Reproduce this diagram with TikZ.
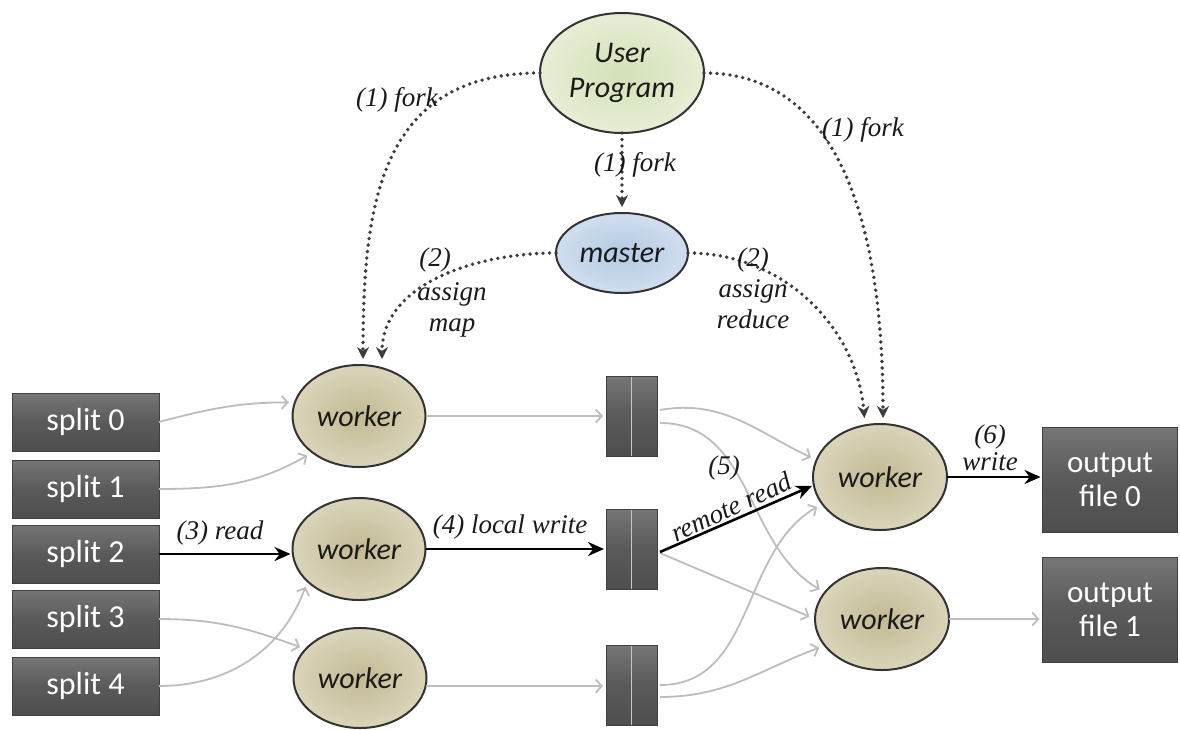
\documentclass[tikz,border=0pt]{standalone}
\usepackage{fontspec}
\setmainfont{Carlito}
\newfontfamily\labelserif{Liberation Serif}
\usetikzlibrary{arrows.meta,shapes.geometric}
\definecolor{upfill}{HTML}{D3E1B6}
\definecolor{upedge}{HTML}{E6EED5}
\definecolor{masterfill}{HTML}{B3C9E3}
\definecolor{masteredge}{HTML}{D0DEEF}
\definecolor{workerfill}{HTML}{C2BA92}
\definecolor{workeredge}{HTML}{DAD4BA}
\definecolor{boxtop}{HTML}{767676}
\definecolor{boxmid}{HTML}{5A5A5A}
\definecolor{boxbot}{HTML}{4E4E4E}
\definecolor{flowgray}{HTML}{BDBDBD}
\definecolor{dotgray}{HTML}{3C3C3C}
\definecolor{inktext}{HTML}{1A1A1A}

\begin{document}
\begin{tikzpicture}[x=1pt,y=1pt,
  every node/.style={inner sep=0pt,outer sep=0pt},
  proc/.style={ellipse,draw=black!80,line width=2pt,text=inktext,
    font=\fontsize{30}{35}\selectfont\itshape,align=center},
  upball/.style={proc,inner color=upfill,outer color=upedge,
    minimum width=164pt,minimum height=120pt},
  masterball/.style={proc,inner color=masterfill,outer color=masteredge,
    minimum width=132pt,minimum height=80pt},
  workerball/.style={proc,inner color=workerfill,outer color=workeredge,
    minimum width=133pt,minimum height=102pt},
  filebox/.style={rectangle,draw=black!75,line width=0.8pt,
    top color=boxtop,bottom color=boxbot,middle color=boxmid,
    text=white,align=center},
  splitbox/.style={filebox,minimum width=147pt,minimum height=58pt,
    font=\fontsize{32}{36}\selectfont},
  outbox/.style={filebox,minimum width=135pt,minimum height=105pt,
    font=\fontsize{31}{34}\selectfont},
  stackbox/.style={filebox,minimum width=51pt,minimum height=80pt,
    path picture={\draw[line width=1.8pt,draw=black!22]
      (path picture bounding box.north) -- (path picture bounding box.south);}},
  flow/.style={draw=flowgray,line width=1.8pt,shorten >=6pt,
    -{Straight Barb[length=6pt,width=13pt]}},
  mainflow/.style={draw=black,line width=2.6pt,shorten >=2pt,
    -{Stealth[length=16pt,width=14pt]}},
  forkflow/.style={draw=dotgray,line width=3.8pt,line cap=round,
    dash pattern=on 0pt off 6.5pt,shorten >=6pt,
    -{Stealth[length=12pt,width=12pt]}},
  note/.style={font=\labelserif\fontsize{27}{31}\selectfont\itshape,
    text=inktext,align=center}
]
\useasboundingbox[fill=white] (0,0) rectangle (1180,-729);

% processes
\node[upball] (up) at (622,-73) {User\\Program};
\node[masterball] (master) at (622,-253) {master};
\node[workerball] (w1) at (359,-416) {worker};
\node[workerball] (w2) at (359,-549) {worker};
\node[workerball,minimum height=100pt] (w3) at (360,-678) {worker};
\node[workerball,minimum width=134pt,minimum height=106pt] (r1) at (880,-477) {worker};
\node[workerball,minimum width=134pt] (r2) at (882,-619) {worker};

% input splits
\node[splitbox] (s0) at (85.5,-422) {split 0};
\node[splitbox] (s1) at (85.5,-489) {split 1};
\node[splitbox] (s2) at (85.5,-554) {split 2};
\node[splitbox] (s3) at (85.5,-619) {split 3};
\node[splitbox] (s4) at (85.5,-686) {split 4};

% intermediate files
\node[stackbox] (stk1) at (631.5,-416) {};
\node[stackbox] (stk2) at (631.5,-549) {};
\node[stackbox] (stk3) at (631.5,-685) {};

% output files
\node[outbox] (o0) at (1110,-480) {output\\file 0};
\node[outbox] (o1) at (1110,-610) {output\\file 1};

% fork and assignment
\draw[forkflow] (up.west) to[out=180,in=90,looseness=1.2] ([xshift=4pt]w1.north);
\draw[forkflow] (up.south) -- (master.north);
\draw[forkflow] (up.east) to[out=0,in=90] ([xshift=3pt]r1.north);
\draw[forkflow] (master.west) to[out=180,in=90] ([xshift=23pt]w1.north);
\draw[forkflow] (master.east) to[out=0,in=95] ([xshift=-15pt]r1.north);

% map inputs
\draw[flow] (s0.east) to[out=15,in=180] (w1.168);
\draw[flow] (s1.east) to[out=0,in=210] (w1.218);
\draw[mainflow] (s2.east) -- (s2.east -| w2.west);
\draw[flow] (s3.east) to[out=0,in=160] (w3.152);
\draw[flow] (s4.east) to[out=0,in=250] (w2.212);

% local writes
\draw[flow,shorten >=3pt] (w1.east) -- (w1.east -| stk1.west);
\draw[mainflow] (w2.east) -- (w2.east -| stk2.west);
\draw[flow,shorten >=3pt] (w3.-7) -- (w3.-7 -| stk3.west);

% remote reads
\draw[flow] ([shift={(3,6)}]stk1.east) to[out=10,in=155] (r1.165);
\draw[flow] ([shift={(3,-7)}]stk1.east) to[out=0,in=150] (r2.155);
\draw[flow] ([shift={(3,-4)}]stk2.east) -- (r2.west);
\draw[mainflow] ([shift={(3,-3)}]stk2.east) -- (r1.187);
\draw[flow] ([shift={(3,0)}]stk3.east) to[out=0,in=210] (r1.205);
\draw[flow] ([shift={(3,-12)}]stk3.east) to[out=0,in=200] (r2.205);

% final writes
\draw[mainflow] (r1.east) -- (r1.east -| o0.west);
\draw[flow,shorten >=3pt] (r2.east) -- (r2.east -| o1.west);

% step labels
\node[note] (n1a) at (397,-100) {(1) fork};
\node[note] (n1b) at (635,-165) {(1) fork};
\node[note] (n1c) at (863,-130) {(1) fork};
\node[note] (n2a) at (435,-260) {(2)};
\node[note] (n2b) at (452,-310) {assign\\map};
\node[note] (n2c) at (753,-288) {(2)\\assign\\reduce};
\node[note] (n3) at (220,-533) {(3) read};
\node[note] (n4) at (510,-527) {(4) local write};
\node[note] (n5a) at (724,-468) {(5)};
\node[note,rotate=25] (n5b) at (731,-507) {remote read};
\node[note,font=\labelserif\fontsize{27}{27}\selectfont\itshape] (n6) at (990,-448) {(6)\\write};
\end{tikzpicture}
\end{document}
